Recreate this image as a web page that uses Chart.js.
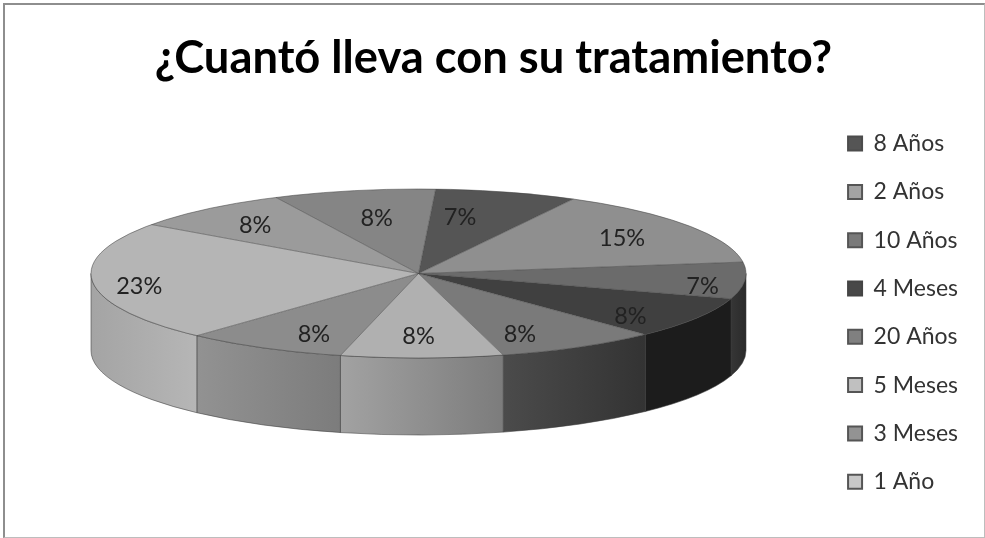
<!DOCTYPE html>
<html lang="es">
<head>
<meta charset="utf-8">
<title>Tratamiento</title>
<script src="https://cdn.jsdelivr.net/npm/chart.js@4"></script>
<style>
    html, body { margin: 0; padding: 0; background: #fff; overflow: hidden; }
    #wrap { position: relative; width: 985px; height: 538px; }
    #frame {
        position: absolute; left: 3px; top: 3px; width: 979px; height: 532px;
        border: solid #bdbdbd; border-width: 2px 1px 1px 2px;
        border-top-color: #8e8e8e; border-left-color: #8e8e8e;
    }
    canvas { position: absolute; left: 0; top: 0; }
</style>
</head>
<body>
<div id="wrap">
    <div id="frame"></div>
    <canvas id="chart" width="985" height="538"></canvas>
</div>
<script>
// the last two slices never made it into the legend, so they stay unnamed
const categories = ['8 Años', '2 Años', '10 Años', '4 Meses', '20 Años', '5 Meses', '3 Meses', '1 Año', '', ''];
const percents = [7, 15, 7, 8, 8, 8, 8, 23, 8, 8];

const topColors = ['#555555', '#8f8f8f', '#6b6b6b', '#404040', '#7a7a7a', '#b0b0b0', '#8c8c8c', '#b5b5b5', '#9b9b9b', '#858585'];
const swatchColors = ['#555555', '#a3a3a3', '#7a7a7a', '#484848', '#808080', '#c0c0c0', '#939393', '#c8c8c8', '#9b9b9b', '#858585'];
const swatchBorders = ['#4c4c4c', '#555555', '#555555', '#444444', '#555555', '#555555', '#555555', '#555555', '#555555', '#555555'];
// left and right shade of the outer wall of each slice
const wallShades = [
    ['#333333', '#333333'], ['#333333', '#333333'], ['#363636', '#2a2a2a'], ['#1c1c1c', '#1c1c1c'],
    ['#4b4b4b', '#333333'], ['#a2a2a2', '#7c7c7c'], ['#929292', '#7c7c7c'], ['#a4a4a4', '#b6b6b6'],
    ['#9b9b9b', '#9b9b9b'], ['#858585', '#858585']
];

const FONT = 'Lato, "Open Sans", sans-serif';

// squashes the flat pie into a tilted disc and adds the outer wall
const tiltedPie = {
    id: 'tiltedPie',
    beforeDatasetsDraw(chart, args, opts) {
        const { ctx } = chart;
        const arcs = chart.getDatasetMeta(0).data;
        arcs.forEach((arc, i) => {
            const s = Math.max(arc.startAngle, 0);
            const e = Math.min(arc.endAngle, Math.PI);
            if (e <= s) return;
            const x0 = opts.cx + opts.rx * Math.cos(e);
            const x1 = opts.cx + opts.rx * Math.cos(s);
            const grad = ctx.createLinearGradient(x0, 0, x1, 0);
            grad.addColorStop(0, wallShades[i][0]);
            grad.addColorStop(1, wallShades[i][1]);
            ctx.beginPath();
            ctx.ellipse(opts.cx, opts.cy, opts.rx, opts.ry, 0, s, e);
            ctx.ellipse(opts.cx, opts.cy + opts.depth, opts.rx, opts.ry, 0, e, s, true);
            ctx.closePath();
            ctx.fillStyle = grad;
            ctx.fill();
            ctx.strokeStyle = 'rgba(60,60,60,0.55)';
            ctx.lineWidth = 1;
            ctx.stroke();
        });
    },
    beforeDatasetDraw(chart, args, opts) {
        const { ctx } = chart;
        const arc = args.meta.data[0];
        const R = arc.outerRadius;
        ctx.save();
        ctx.translate(opts.cx, opts.cy);
        ctx.scale(opts.rx / R, opts.ry / R);
        ctx.translate(-arc.x, -arc.y);
    },
    afterDatasetDraw(chart) {
        chart.ctx.restore();
    },
    afterDatasetsDraw(chart, args, opts) {
        const { ctx } = chart;
        const arcs = chart.getDatasetMeta(0).data;

        // spokes and rim, stroked unsquashed so they stay one pixel wide
        ctx.save();
        ctx.lineWidth = 1;
        ctx.strokeStyle = 'rgba(70,70,70,0.55)';
        arcs.forEach(arc => {
            ctx.beginPath();
            ctx.moveTo(opts.cx, opts.cy);
            ctx.lineTo(opts.cx + opts.rx * Math.cos(arc.startAngle), opts.cy + opts.ry * Math.sin(arc.startAngle));
            ctx.stroke();
        });
        ctx.beginPath();
        ctx.ellipse(opts.cx, opts.cy, opts.rx, opts.ry, 0, 0, Math.PI * 2);
        ctx.stroke();

        ctx.font = '400 ' + opts.labelSize + 'px ' + FONT;
        ctx.fillStyle = '#222';
        ctx.textAlign = 'center';
        ctx.textBaseline = 'middle';
        arcs.forEach((arc, i) => {
            const mid = (arc.startAngle + arc.endAngle) / 2 + opts.labelTurns[i] * Math.PI / 180;
            const f = opts.labelRadii[i];
            ctx.fillText(percents[i] + '%', opts.cx + opts.rx * f * Math.cos(mid), opts.cy + opts.ry * f * Math.sin(mid));
        });
        ctx.restore();
    }
};

new Chart(document.getElementById('chart').getContext('2d'), {
    type: 'pie',
    data: {
        labels: categories,
        datasets: [{
            data: percents,
            backgroundColor: topColors,
            borderWidth: 0,
            rotation: 3,
            clip: false
        }]
    },
    plugins: [tiltedPie],
    options: {
        responsive: false,
        animation: false,
        layout: { padding: { left: 19, bottom: 19.5, right: 17 } },
        plugins: {
            tooltip: { enabled: false },
            title: {
                display: true,
                text: '¿Cuantó lleva con su tratamiento?',
                color: '#000',
                font: { family: FONT, size: 45.3, weight: '700' },
                padding: { top: 31, bottom: 20 }
            },
            legend: {
                position: 'right',
                align: 'end',
                labels: {
                    color: '#333',
                    font: { family: FONT, size: 23 },
                    boxWidth: 14,
                    boxHeight: 14,
                    padding: 25.3,
                    filter: item => item.text !== '',
                    generateLabels(chart) {
                        return Chart.overrides.pie.plugins.legend.labels.generateLabels(chart).map((item, i) => ({
                            ...item,
                            fillStyle: swatchColors[i],
                            strokeStyle: swatchBorders[i],
                            lineWidth: 2
                        }));
                    }
                }
            },
            tiltedPie: {
                cx: 418.5,
                cy: 273.5,
                rx: 327.5,
                ry: 84.5,
                depth: 77,
                labelSize: 23.5,
                labelRadii: [0.67, 0.75, 0.88, 0.82, 0.78, 0.75, 0.785, 0.866, 0.76, 0.67],
                labelTurns: [-4.7, 0.8, 4.9, 6.1, 6, 0.6, -4.2, -4, -0.8, 0.4]
            }
        }
    }
});
</script>
</body>
</html>
